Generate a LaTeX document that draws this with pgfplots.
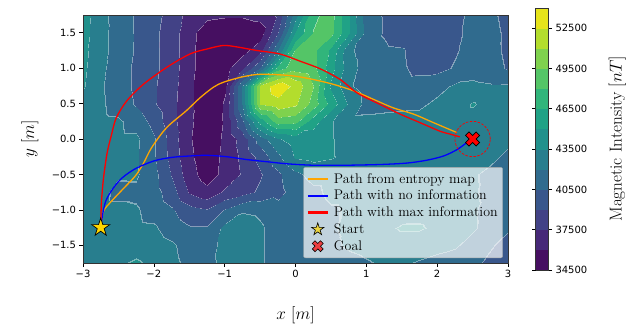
\documentclass[border=0pt]{standalone}
\usepackage{fontspec}
\newfontfamily\ticksfont{DejaVu Sans}
\usepackage{pgfplots}
\usepackage{pgfplotstable}
\pgfplotsset{compat=1.18}

% 13 contour bands (34500 ... 54000 nT, step 1500), viridis sampled at the band centres.
% "bands": each band split into 60 steps, its two outer steps lightened to trace the level lines;
% "plainbands": the same colours without the level lines, for the colour bar
\def\cmapspec{}
\def\plainspec{}
\newcommand\addband[3]{%
  \pgfmathtruncatemacro\lr{#1+0.4*(255-#1)}%
  \pgfmathtruncatemacro\lg{#2+0.4*(255-#2)}%
  \pgfmathtruncatemacro\lb{#3+0.4*(255-#3)}%
  \xdef\plainspec{\plainspec rgb255=(#1,#2,#3)}%
  \xdef\cmapspec{\cmapspec rgb255=(\lr,\lg,\lb)}%
  \foreach \j in {2,...,59}{\xdef\cmapspec{\cmapspec rgb255=(#1,#2,#3)}}%
  \xdef\cmapspec{\cmapspec rgb255=(\lr,\lg,\lb)}%
}
\addband{70}{15}{97}
\addband{71}{41}{120}
\addband{66}{66}{134}
\addband{57}{87}{140}
\addband{48}{107}{142}
\addband{40}{126}{142}
\addband{33}{145}{140}
\addband{32}{162}{134}
\addband{49}{181}{123}
\addband{84}{197}{103}
\addband{127}{210}{78}
\addband{179}{221}{45}
\addband{230}{228}{27}
\edef\setbands{\noexpand\pgfplotsset{colormap={bands}{\cmapspec}, colormap={plainbands}{\plainspec}}}
\setbands

\definecolor{pathorange}{RGB}{255,165,0}
\definecolor{pathblue}{RGB}{0,0,255}
\definecolor{pathred}{RGB}{255,0,0}
\definecolor{startgold}{RGB}{255,215,0}

% filled five-pointed star
\pgfdeclareplotmark{fstar}{%
  \pgfpathmoveto{\pgfpointpolar{90}{\pgfplotmarksize}}%
  \pgfpathlineto{\pgfpointpolar{126}{0.382\pgfplotmarksize}}%
  \pgfpathlineto{\pgfpointpolar{162}{\pgfplotmarksize}}%
  \pgfpathlineto{\pgfpointpolar{198}{0.382\pgfplotmarksize}}%
  \pgfpathlineto{\pgfpointpolar{234}{\pgfplotmarksize}}%
  \pgfpathlineto{\pgfpointpolar{270}{0.382\pgfplotmarksize}}%
  \pgfpathlineto{\pgfpointpolar{306}{\pgfplotmarksize}}%
  \pgfpathlineto{\pgfpointpolar{342}{0.382\pgfplotmarksize}}%
  \pgfpathlineto{\pgfpointpolar{18}{\pgfplotmarksize}}%
  \pgfpathlineto{\pgfpointpolar{54}{0.382\pgfplotmarksize}}%
  \pgfpathclose
  \pgfusepathqfillstroke
}
% filled X (a plus sign turned by 45 degrees)
\pgfdeclareplotmark{fX}{%
  \pgfpathmoveto{\pgfpoint{0pt}{0.471\pgfplotmarksize}}%
  \pgfpathlineto{\pgfpoint{-0.471\pgfplotmarksize}{0.943\pgfplotmarksize}}%
  \pgfpathlineto{\pgfpoint{-0.943\pgfplotmarksize}{0.471\pgfplotmarksize}}%
  \pgfpathlineto{\pgfpoint{-0.471\pgfplotmarksize}{0pt}}%
  \pgfpathlineto{\pgfpoint{-0.943\pgfplotmarksize}{-0.471\pgfplotmarksize}}%
  \pgfpathlineto{\pgfpoint{-0.471\pgfplotmarksize}{-0.943\pgfplotmarksize}}%
  \pgfpathlineto{\pgfpoint{0pt}{-0.471\pgfplotmarksize}}%
  \pgfpathlineto{\pgfpoint{0.471\pgfplotmarksize}{-0.943\pgfplotmarksize}}%
  \pgfpathlineto{\pgfpoint{0.943\pgfplotmarksize}{-0.471\pgfplotmarksize}}%
  \pgfpathlineto{\pgfpoint{0.471\pgfplotmarksize}{0pt}}%
  \pgfpathlineto{\pgfpoint{0.943\pgfplotmarksize}{0.471\pgfplotmarksize}}%
  \pgfpathlineto{\pgfpoint{0.471\pgfplotmarksize}{0.943\pgfplotmarksize}}%
  \pgfpathclose
  \pgfusepathqfillstroke
}

% magnetic intensity [nT] on a 0.25 m grid, one line per y value
\pgfplotstableread[row sep=\\]{
x y B \\
-3 1.75 44250 \\ -2.75 1.75 42450 \\ -2.5 1.75 41400 \\ -2.25 1.75 40350 \\ -2 1.75 39450 \\ -1.75 1.75 38400 \\ -1.5 1.75 36900 \\ -1.25 1.75 36300 \\ -1 1.75 36150 \\ -0.75 1.75 36150 \\ -0.5 1.75 36450 \\ -0.25 1.75 37800 \\ 0 1.75 42750 \\ 0.25 1.75 47700 \\ 0.5 1.75 48600 \\ 0.75 1.75 45060 \\ 1 1.75 41250 \\ 1.25 1.75 40350 \\ 1.5 1.75 39600 \\ 1.75 1.75 39450 \\ 2 1.75 39600 \\ 2.25 1.75 40050 \\ 2.5 1.75 40950 \\ 2.75 1.75 40800 \\ 3 1.75 40050 \\
-3 1.5 44100 \\ -2.75 1.5 42450 \\ -2.5 1.5 41400 \\ -2.25 1.5 40350 \\ -2 1.5 39300 \\ -1.75 1.5 38250 \\ -1.5 1.5 36450 \\ -1.25 1.5 35250 \\ -1 1.5 35100 \\ -0.75 1.5 35100 \\ -0.5 1.5 35250 \\ -0.25 1.5 39060 \\ 0 1.5 45060 \\ 0.25 1.5 48060 \\ 0.5 1.5 48450 \\ 0.75 1.5 45060 \\ 1 1.5 41550 \\ 1.25 1.5 40350 \\ 1.5 1.5 39600 \\ 1.75 1.5 39450 \\ 2 1.5 39600 \\ 2.25 1.5 40200 \\ 2.5 1.5 40950 \\ 2.75 1.5 40950 \\ 3 1.5 40200 \\
-3 1.25 43950 \\ -2.75 1.25 42450 \\ -2.5 1.25 41400 \\ -2.25 1.25 40350 \\ -2 1.25 39300 \\ -1.75 1.25 38250 \\ -1.5 1.25 36450 \\ -1.25 1.25 35100 \\ -1 1.25 34950 \\ -0.75 1.25 35400 \\ -0.5 1.25 36900 \\ -0.25 1.25 42060 \\ 0 1.25 48060 \\ 0.25 1.25 48450 \\ 0.5 1.25 46200 \\ 0.75 1.25 42300 \\ 1 1.25 41250 \\ 1.25 1.25 40800 \\ 1.5 1.25 40650 \\ 1.75 1.25 39750 \\ 2 1.25 39750 \\ 2.25 1.25 40350 \\ 2.5 1.25 41100 \\ 2.75 1.25 40950 \\ 3 1.25 40200 \\
-3 1 43800 \\ -2.75 1 42300 \\ -2.5 1 41250 \\ -2.25 1 40200 \\ -2 1 39300 \\ -1.75 1 38250 \\ -1.5 1 36450 \\ -1.25 1 35100 \\ -1 1 35550 \\ -0.75 1 37200 \\ -0.5 1 40560 \\ -0.25 1 47250 \\ 0 1 48900 \\ 0.25 1 48450 \\ 0.5 1 45600 \\ 0.75 1 42600 \\ 1 1 41400 \\ 1.25 1 41100 \\ 1.5 1 40700 \\ 1.75 1 40050 \\ 2 1 40050 \\ 2.25 1 40650 \\ 2.5 1 41400 \\ 2.75 1 41100 \\ 3 1 40350 \\
-3 0.75 43650 \\ -2.75 0.75 42150 \\ -2.5 0.75 41250 \\ -2.25 0.75 40200 \\ -2 0.75 39150 \\ -1.75 0.75 38100 \\ -1.5 0.75 36300 \\ -1.25 0.75 35100 \\ -1 0.75 35850 \\ -0.75 0.75 42060 \\ -0.5 0.75 51300 \\ -0.25 0.75 53550 \\ 0 0.75 52050 \\ 0.25 0.75 49560 \\ 0.5 0.75 44700 \\ 0.75 0.75 42200 \\ 1 0.75 41400 \\ 1.25 0.75 41250 \\ 1.5 0.75 41100 \\ 1.75 0.75 41250 \\ 2 0.75 41550 \\ 2.25 0.75 42200 \\ 2.5 0.75 42300 \\ 2.75 0.75 42150 \\ 3 0.75 42200 \\
-3 0.5 43050 \\ -2.75 0.5 42200 \\ -2.5 0.5 41400 \\ -2.25 0.5 40350 \\ -2 0.5 39150 \\ -1.75 0.5 37950 \\ -1.5 0.5 36300 \\ -1.25 0.5 35100 \\ -1 0.5 36150 \\ -0.75 0.5 42060 \\ -0.5 0.5 51060 \\ -0.25 0.5 51900 \\ 0 0.5 51300 \\ 0.25 0.5 48900 \\ 0.5 0.5 45900 \\ 0.75 0.5 43200 \\ 1 0.5 41550 \\ 1.25 0.5 41600 \\ 1.5 0.5 41700 \\ 1.75 0.5 41750 \\ 2 0.5 42300 \\ 2.25 0.5 42750 \\ 2.5 0.5 43650 \\ 2.75 0.5 42750 \\ 3 0.5 42450 \\
-3 0.25 42600 \\ -2.75 0.25 42300 \\ -2.5 0.25 42200 \\ -2.25 0.25 41400 \\ -2 0.25 39900 \\ -1.75 0.25 37950 \\ -1.5 0.25 36300 \\ -1.25 0.25 35100 \\ -1 0.25 36150 \\ -0.75 0.25 40200 \\ -0.5 0.25 45750 \\ -0.25 0.25 48900 \\ 0 0.25 48600 \\ 0.25 0.25 45750 \\ 0.5 0.25 43650 \\ 0.75 0.25 42250 \\ 1 0.25 42300 \\ 1.25 0.25 42400 \\ 1.5 0.25 42450 \\ 1.75 0.25 42500 \\ 2 0.25 42600 \\ 2.25 0.25 42750 \\ 2.5 0.25 42900 \\ 2.75 0.25 42600 \\ 3 0.25 42300 \\
-3 0 42450 \\ -2.75 0 42300 \\ -2.5 0 42300 \\ -2.25 0 42300 \\ -2 0 40650 \\ -1.75 0 38250 \\ -1.5 0 36150 \\ -1.25 0 35100 \\ -1 0 36300 \\ -0.75 0 38100 \\ -0.5 0 41250 \\ -0.25 0 43350 \\ 0 0 44250 \\ 0.25 0 44100 \\ 0.5 0 43650 \\ 0.75 0 42750 \\ 1 0 42450 \\ 1.25 0 42450 \\ 1.5 0 42450 \\ 1.75 0 42450 \\ 2 0 42600 \\ 2.25 0 42600 \\ 2.5 0 42600 \\ 2.75 0 42450 \\ 3 0 42300 \\
-3 -0.25 42450 \\ -2.75 -0.25 42300 \\ -2.5 -0.25 42150 \\ -2.25 -0.25 42200 \\ -2 -0.25 40650 \\ -1.75 -0.25 38400 \\ -1.5 -0.25 36300 \\ -1.25 -0.25 35100 \\ -1 -0.25 36450 \\ -0.75 -0.25 37800 \\ -0.5 -0.25 39450 \\ -0.25 -0.25 41700 \\ 0 -0.25 43650 \\ 0.25 -0.25 43950 \\ 0.5 -0.25 43650 \\ 0.75 -0.25 42900 \\ 1 -0.25 42300 \\ 1.25 -0.25 42350 \\ 1.5 -0.25 42350 \\ 1.75 -0.25 42300 \\ 2 -0.25 42300 \\ 2.25 -0.25 42450 \\ 2.5 -0.25 42450 \\ 2.75 -0.25 42300 \\ 3 -0.25 41700 \\
-3 -0.5 42300 \\ -2.75 -0.5 42300 \\ -2.5 -0.5 42150 \\ -2.25 -0.5 42200 \\ -2 -0.5 40950 \\ -1.75 -0.5 38850 \\ -1.5 -0.5 36600 \\ -1.25 -0.5 35250 \\ -1 -0.5 36450 \\ -0.75 -0.5 37650 \\ -0.5 -0.5 38850 \\ -0.25 -0.5 40200 \\ 0 -0.5 41700 \\ 0.25 -0.5 42450 \\ 0.5 -0.5 42450 \\ 0.75 -0.5 42300 \\ 1 -0.5 42300 \\ 1.25 -0.5 42300 \\ 1.5 -0.5 42300 \\ 1.75 -0.5 42300 \\ 2 -0.5 42300 \\ 2.25 -0.5 42300 \\ 2.5 -0.5 42150 \\ 2.75 -0.5 41700 \\ 3 -0.5 41400 \\
-3 -0.75 42150 \\ -2.75 -0.75 42300 \\ -2.5 -0.75 41700 \\ -2.25 -0.75 41700 \\ -2 -0.75 41100 \\ -1.75 -0.75 39600 \\ -1.5 -0.75 37350 \\ -1.25 -0.75 36450 \\ -1 -0.75 37800 \\ -0.75 -0.75 38400 \\ -0.5 -0.75 39300 \\ -0.25 -0.75 40050 \\ 0 -0.75 41100 \\ 0.25 -0.75 41700 \\ 0.5 -0.75 42300 \\ 0.75 -0.75 42300 \\ 1 -0.75 42300 \\ 1.25 -0.75 42300 \\ 1.5 -0.75 42450 \\ 1.75 -0.75 42600 \\ 2 -0.75 42600 \\ 2.25 -0.75 42450 \\ 2.5 -0.75 42150 \\ 2.75 -0.75 41700 \\ 3 -0.75 41250 \\
-3 -1 42150 \\ -2.75 -1 42300 \\ -2.5 -1 42300 \\ -2.25 -1 42150 \\ -2 -1 41400 \\ -1.75 -1 40650 \\ -1.5 -1 39600 \\ -1.25 -1 39150 \\ -1 -1 40650 \\ -0.75 -1 41850 \\ -0.5 -1 41700 \\ -0.25 -1 41100 \\ 0 -1 41100 \\ 0.25 -1 41400 \\ 0.5 -1 41850 \\ 0.75 -1 42150 \\ 1 -1 42300 \\ 1.25 -1 42600 \\ 1.5 -1 42900 \\ 1.75 -1 43050 \\ 2 -1 42900 \\ 2.25 -1 42600 \\ 2.5 -1 42200 \\ 2.75 -1 41400 \\ 3 -1 40800 \\
-3 -1.25 42150 \\ -2.75 -1.25 42450 \\ -2.5 -1.25 42450 \\ -2.25 -1.25 42300 \\ -2 -1.25 42200 \\ -1.75 -1.25 41250 \\ -1.5 -1.25 40650 \\ -1.25 -1.25 40650 \\ -1 -1.25 42450 \\ -0.75 -1.25 42750 \\ -0.5 -1.25 42200 \\ -0.25 -1.25 41250 \\ 0 -1.25 41100 \\ 0.25 -1.25 41400 \\ 0.5 -1.25 41850 \\ 0.75 -1.25 42300 \\ 1 -1.25 42750 \\ 1.25 -1.25 43200 \\ 1.5 -1.25 43650 \\ 1.75 -1.25 43650 \\ 2 -1.25 43200 \\ 2.25 -1.25 42600 \\ 2.5 -1.25 42200 \\ 2.75 -1.25 41250 \\ 3 -1.25 40650 \\
-3 -1.5 42300 \\ -2.75 -1.5 42600 \\ -2.5 -1.5 42900 \\ -2.25 -1.5 43050 \\ -2 -1.5 42750 \\ -1.75 -1.5 42200 \\ -1.5 -1.5 41400 \\ -1.25 -1.5 41250 \\ -1 -1.5 42600 \\ -0.75 -1.5 42900 \\ -0.5 -1.5 42200 \\ -0.25 -1.5 41250 \\ 0 -1.5 41100 \\ 0.25 -1.5 41250 \\ 0.5 -1.5 41700 \\ 0.75 -1.5 42200 \\ 1 -1.5 42450 \\ 1.25 -1.5 42750 \\ 1.5 -1.5 42900 \\ 1.75 -1.5 42750 \\ 2 -1.5 42450 \\ 2.25 -1.5 42200 \\ 2.5 -1.5 41400 \\ 2.75 -1.5 40650 \\ 3 -1.5 40050 \\
-3 -1.75 42450 \\ -2.75 -1.75 42750 \\ -2.5 -1.75 43350 \\ -2.25 -1.75 43650 \\ -2 -1.75 43200 \\ -1.75 -1.75 42300 \\ -1.5 -1.75 41700 \\ -1.25 -1.75 41550 \\ -1 -1.75 42450 \\ -0.75 -1.75 42750 \\ -0.5 -1.75 42200 \\ -0.25 -1.75 41250 \\ 0 -1.75 40950 \\ 0.25 -1.75 40950 \\ 0.5 -1.75 41250 \\ 0.75 -1.75 41550 \\ 1 -1.75 41850 \\ 1.25 -1.75 42200 \\ 1.5 -1.75 42200 \\ 1.75 -1.75 41850 \\ 2 -1.75 41550 \\ 2.25 -1.75 41250 \\ 2.5 -1.75 40800 \\ 2.75 -1.75 40200 \\ 3 -1.75 39750 \\
}\magfield

\begin{document}
\begin{tikzpicture}
\begin{axis}[
  name=ax,
  scale only axis, width=425bp, height=248bp,
  xmin=-3, xmax=3, ymin=-1.75, ymax=1.75,
  enlargelimits=false, axis on top, scaled ticks=false,
  xtick={-3,-2,-1,0,1,2,3},
  xticklabels={−3,−2,−1,0,1,2,3},
  ytick={-1.5,-1,-0.5,0,0.5,1,1.5},
  yticklabels={−1.5,−1.0,−0.5,0.0,0.5,1.0,1.5},
  tick align=outside, tick pos=left, major tick length=3.5bp,
  tick style={black, line width=0.6pt},
  ticklabel style={font=\ticksfont\fontsize{10}{12}\selectfont},
  axis line style={line width=0.6pt, black!80},
  xlabel={$x\ [m]$}, ylabel={$y\ [m]$},
  label style={font=\fontsize{17.28}{20}\selectfont},
  xlabel style={at={(axis description cs:0.5,-0.21)}, anchor=center},
  ylabel style={at={(axis description cs:-0.125,0.5)}, anchor=center},
  colormap name=bands, colormap access=piecewise constant,
  point meta min=34500, point meta max=54000,
  colorbar,
  colorbar style={
    colormap name=plainbands,
    at={(parent axis.east)}, anchor=west, xshift=19bp,
    scale only axis, width=13bp, height=262bp, scaled y ticks=false,
    ytick={34500,37500,40500,43500,46500,49500,52500},
    yticklabels={34500,37500,40500,43500,46500,49500,52500},
    yticklabel style={font=\ticksfont\fontsize{10}{12}\selectfont},
    tick align=outside, major tick length=3.5bp,
    tick style={black, line width=0.6pt},
    axis line style={line width=0.6pt, black!80},
    ylabel={Magnetic Intensity $[nT]$},
    ylabel style={font=\fontsize{17.28}{20}\selectfont, at={(axis description cs:6.3,0.5)}, anchor=center},
  },
  legend cell align=left,
  legend image code/.code={\draw[mark repeat=2, mark phase=2, #1] plot coordinates {(0bp,0bp) (10bp,0bp) (20bp,0bp)};},
  legend style={at={(0.988,0.02)}, anchor=south east,
    font=\fontsize{14}{16}\selectfont,
    fill=white, fill opacity=0.7, text opacity=1, draw opacity=1,
    draw=black!35, rounded corners=2pt, inner xsep=3bp, inner ysep=4bp,
    row sep=1.5bp, column sep=3bp},
]
\addplot[surf, shader=interp, point meta=explicit, mesh/rows=15, mesh/cols=25, forget plot]
  table[x=x, y=y, meta=B] \magfield;

\addlegendimage{pathorange, line width=2.5pt}
\addlegendentry{Path from entropy map}
\addlegendimage{pathblue, line width=2.5pt}
\addlegendentry{Path with no information}
\addlegendimage{pathred, line width=2.5pt}
\addlegendentry{Path with max information}
\addlegendimage{only marks, mark=fstar, mark size=6.5bp, mark options={fill=startgold, draw=black, line width=0.6pt}}
\addlegendentry{Start}
\addlegendimage{only marks, mark=fX, mark size=5.8bp, mark options={fill=pathred, draw=black, line width=0.6pt}}
\addlegendentry{Goal}

% path from entropy map
\addplot[pathorange, line width=1.3pt, smooth, forget plot] coordinates {
(-2.75,-1.25) (-2.71,-1.02) (-2.6,-0.88) (-2.42,-0.69) (-2.26,-0.52) (-2.15,-0.35)
(-2.03,-0.12) (-1.82,0.16) (-1.54,0.40) (-1.35,0.58) (-1.16,0.73) (-1.02,0.80)
(-0.78,0.87) (-0.55,0.91) (-0.31,0.91) (-0.03,0.89) (0.25,0.84) (0.54,0.77)
(0.82,0.68) (1.10,0.56) (1.38,0.44) (1.67,0.35) (1.95,0.23) (2.28,0.09)};
% path with no information
\addplot[pathblue, line width=1.3pt, smooth, forget plot] coordinates {
(-2.75,-1.25) (-2.68,-0.88) (-2.5,-0.6) (-2.28,-0.43) (-2.0,-0.31) (-1.75,-0.26)
(-1.5,-0.24) (-1.25,-0.23) (-0.97,-0.25) (-0.69,-0.29) (-0.41,-0.32) (-0.12,-0.35)
(0.25,-0.37) (0.72,-0.37) (1.19,-0.36) (1.57,-0.34) (1.85,-0.30) (2.09,-0.24)
(2.28,-0.15) (2.42,-0.05) (2.5,0)};
% path with max information
\addplot[pathred, line width=1.3pt, smooth, forget plot] coordinates {
(-2.75,-1.25) (-2.74,-0.9) (-2.71,-0.55) (-2.66,-0.2) (-2.6,0.05) (-2.53,0.3)
(-2.38,0.54) (-2.15,0.77) (-1.82,1.01) (-1.49,1.20) (-1.25,1.27) (-1.02,1.32)
(-0.83,1.30) (-0.55,1.25) (-0.22,1.20) (0.06,1.10) (0.35,0.99) (0.63,0.84)
(0.87,0.65) (1.19,0.49) (1.48,0.35) (1.76,0.23) (2.04,0.11) (2.18,0.07) (2.32,0.03)};

% goal tolerance circle, start and goal
\addplot[only marks, mark=o, mark size=17.7bp, forget plot,
  mark options={draw=pathred, line width=0.7pt, dash pattern=on 2.5bp off 1.5bp}]
  coordinates {(2.5,0)};
\addplot[only marks, mark=fstar, mark size=9.5bp, forget plot,
  mark options={fill=startgold, draw=black, line width=0.7pt}]
  coordinates {(-2.75,-1.25)};
\addplot[only marks, mark=fX, mark size=7.5bp, forget plot,
  mark options={fill=pathred, draw=black, line width=0.7pt}]
  coordinates {(2.5,0)};
\end{axis}
\pgfresetboundingbox
\path ([xshift=-83bp,yshift=-62bp]ax.south west) rectangle ([xshift=136bp,yshift=15bp]ax.north east);
\end{tikzpicture}
\end{document}
